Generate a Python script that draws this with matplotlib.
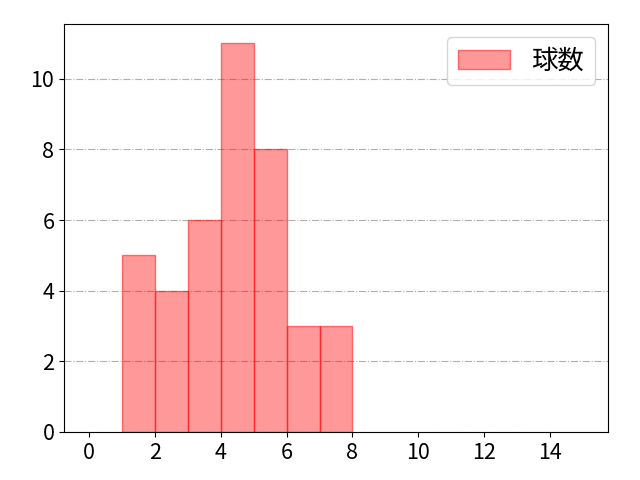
import matplotlib
matplotlib.use("Agg")
import matplotlib.pyplot as plt

plt.rcParams['font.family'] = ['Noto Sans CJK JP', 'DejaVu Sans']

bin_left = [1, 2, 3, 4, 5, 6, 7]
counts = [5, 4, 6, 11, 8, 3, 3]
label = "球数"

fig = plt.figure(figsize=(6.4, 4.8), dpi=100)
ax = fig.add_axes([0.1, 0.1, 0.85, 0.85])
ax.bar(bin_left, counts, width=1, align='edge', color=(1, 0, 0, 0.4),
       edgecolor=(1, 0, 0, 0.5), linewidth=1, label=label)
ax.set_xlim(-0.75, 15.75)
ax.set_ylim(0, 11.55)
ax.set_xticks(range(0, 15, 2))
ax.set_yticks(range(0, 11, 2))
ax.yaxis.grid(True, linestyle='-.', color='#b0b0b0', linewidth=0.8)
ax.set_axisbelow(True)
ax.tick_params(labelsize=15.5)
ax.legend(loc='upper right', fontsize=19)
fig.savefig("out.png", dpi=100)
